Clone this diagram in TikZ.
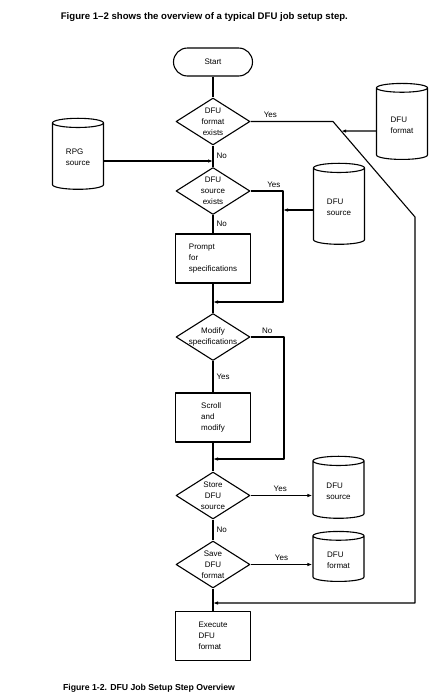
\documentclass[tikz,border=0pt]{standalone}
\usepackage{fontspec}
\setmainfont{Liberation Sans}
\usetikzlibrary{shapes.geometric,arrows.meta,calc}

\begin{document}
\begin{tikzpicture}[x=1pt,y=-1pt,>={Latex[length=5pt,width=3.5pt]},line join=round,line width=1.1pt,font=\fontsize{8}{11}\selectfont,
	term/.style={draw,rectangle,rounded corners=14pt,minimum width=79pt,minimum height=28pt},
	box/.style={draw,rectangle,minimum width=75pt,minimum height=49pt,align=left},
	dec/.style={draw,diamond,minimum width=74pt,minimum height=47pt,inner sep=0pt},
	disk/.style={draw,cylinder,shape border rotate=90,aspect=0.3,minimum width=51pt,minimum height=#1,align=left},
	lbl/.style={inner sep=3pt}]
	\useasboundingbox (0,0) rectangle (430,694);
	\node[anchor=west,font=\bfseries\fontsize{9.6}{11}\selectfont] (title) at (57,17) {Figure 1--2 shows the overview of a typical DFU job setup step.};
	\node[term] (start) at (213,62) {Start};
	\node[dec,label={[align=center]center:DFU\\format\\exists}] (fmtq) at (213,121.5) {};
	\node[dec,label={[align=center]center:DFU\\source\\exists}] (srcq) at (213,191) {};
	\node[box] (prompt) at (213,258.5) {Prompt\\for\\specifications};
	\node[dec,label={[align=center]center:Modify\\specifications}] (modq) at (213,337) {};
	\node[box] (scroll) at (213,417.5) {Scroll\\and\\modify};
	\node[dec,label={[align=center]center:Store\\DFU\\source}] (storeq) at (213,495.5) {};
	\node[dec,label={[align=center]center:Save\\DFU\\format}] (saveq) at (213,564.5) {};
	\node[box] (exec) at (213,636) {Execute\\DFU\\format};
	\node[disk=76pt] (fmtdisk) at (402,125) {DFU\\format};
	\node[disk=71pt] (rpg) at (78,157.5) {RPG\\source};
	\node[disk=81pt] (srcdisk) at (339,207.5) {DFU\\source};
	\node[disk=62pt] (srcout) at (338.5,491) {DFU\\source};
	\node[disk=50pt] (fmtout) at (338.5,560) {DFU\\format};
	\node[anchor=south west,inner sep=0.5pt,font=\bfseries\fontsize{8.7}{10}\selectfont] (caption) at (62,693.5) {Figure 1-2. DFU Job Setup Step Overview};
	\coordinate (b1) at (333,121.5);
	\coordinate (b2) at (415,217);
	\coordinate (b3) at (283,191);
	\coordinate (b4) at (284,337);
	\coordinate (j2) at (213,302);
	\coordinate (j3) at (213,459);
	\coordinate (j5) at (213,603);
	\draw (start) -- (fmtq) -- node[lbl,right]{No} (srcq) -- node[lbl,right]{No} (prompt) -- (modq) -- node[lbl,right]{Yes} (scroll) -- (storeq) -- node[lbl,right]{No} (saveq) -- (exec);
	\draw[->] (fmtq.east) -- node[lbl,above,pos=0.24]{Yes} (b1) -- (b2) |- (j5);
	\draw[->] ([yshift=-6pt]fmtdisk.west) -- ($(b1)!0.1!(b2)$);
	\draw[->] ([yshift=-3.5pt]rpg.east) -- ([yshift=-3.5pt]rpg.east -| fmtq.south);
	\draw[->] (srcq.east) -- node[lbl,above,pos=0.72]{Yes} (b3) |- (j2);
	\draw[->] ([yshift=-2.5pt]srcdisk.west) -- ([yshift=-2.5pt]srcdisk.west -| b3);
	\draw[->] (modq.east) -- node[lbl,above]{No} (b4) |- (j3);
	\draw[->] (storeq.east) -- node[lbl,above,pos=0.48]{Yes} (storeq.east -| srcout.west);
	\draw[->] (saveq.east) -- node[lbl,above]{Yes} (saveq.east -| fmtout.west);
\end{tikzpicture}
\end{document}
